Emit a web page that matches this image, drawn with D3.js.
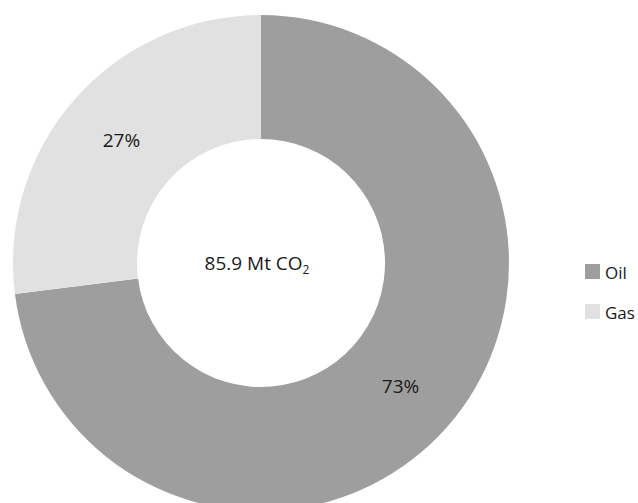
<!DOCTYPE html>
<html>
<head>
<meta charset="utf-8">
<script src="https://cdn.jsdelivr.net/npm/d3@7"></script>
<style>
  body { margin: 0; background: #fff; }
  svg { display: block; font-family: "Open Sans", "DejaVu Sans", sans-serif; }
</style>
</head>
<body>
<div id="chart"></div>
<script>
// data
var fuels = ["Oil", "Gas"];
var shares = [73, 27];
var colours = ["#9d9e9d", "#e1e1e1"];
var totalLabel = "85.9 Mt CO";

var width = 638, height = 503;
var cx = 261, cy = 263, outerR = 248, innerR = 124;

var svg = d3.select("#chart").append("svg")
    .attr("width", width)
    .attr("height", height);

var data = fuels.map(function (f, i) { return {fuel: f, value: shares[i]}; });

var colour = d3.scaleOrdinal().domain(fuels).range(colours);

var pie = d3.pie()
    .sort(null)
    .value(function (d) { return d.value; });

var arc = d3.arc()
    .innerRadius(innerR)
    .outerRadius(outerR);

var g = svg.append("g")
    .attr("transform", "translate(" + cx + "," + cy + ")");

var arcs = pie(data);

g.selectAll("path")
    .data(arcs)
  .enter().append("path")
    .attr("d", arc)
    .attr("fill", function (d) { return colour(d.data.fuel); });

g.selectAll("text.pct")
    .data(arcs)
  .enter().append("text")
    .attr("class", "pct")
    .attr("transform", function (d) { return "translate(" + arc.centroid(d) + ")"; })
    .attr("dy", "0.35em")
    .attr("text-anchor", "middle")
    .style("font-size", "19px")
    .style("fill", "#1a1a1a")
    .text(function (d) { return d.data.value + "%"; });

var centre = g.append("text")
    .attr("x", -4)
    .attr("text-anchor", "middle")
    .attr("dy", "0.35em")
    .style("font-size", "19px")
    .style("fill", "#1a1a1a");
centre.append("tspan").text(totalLabel);
centre.append("tspan")
    .attr("dy", "4")
    .style("font-size", "12px")
    .text("2");

// legend
var legend = svg.append("g")
    .attr("transform", "translate(585,264)");

var item = legend.selectAll("g")
    .data(fuels)
  .enter().append("g")
    .attr("transform", function (d, i) { return "translate(0," + (i * 40) + ")"; });

item.append("rect")
    .attr("width", 15)
    .attr("height", 15)
    .attr("fill", function (d) { return colour(d); });

item.append("text")
    .attr("x", 20)
    .attr("y", 15)
    .style("font-size", "17px")
    .style("fill", "#1a1a1a")
    .text(function (d) { return d; });
</script>
</body>
</html>
